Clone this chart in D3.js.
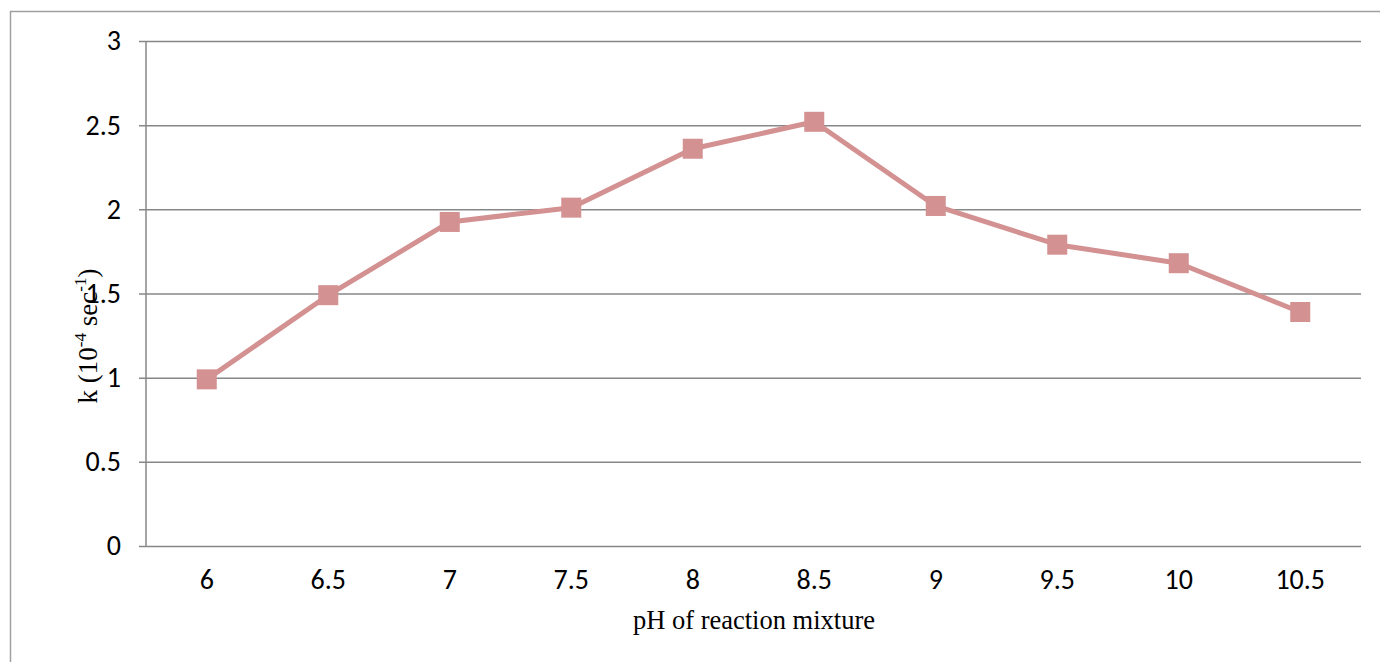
<!DOCTYPE html>
<html>
<head>
<meta charset="utf-8">
<script src="https://cdn.jsdelivr.net/npm/d3@7"></script>
<style>
  html, body { margin: 0; padding: 0; background: #fff; }
  svg { display: block; }
</style>
</head>
<body>
<svg id="chart" width="1380" height="662"></svg>
<script>
// pH of the reaction mixture and the measured rate constant k (10^-4 sec^-1)
const categories = ["6", "6.5", "7", "7.5", "8", "8.5", "9", "9.5", "10", "10.5"];
const kValues = [0.99, 1.49, 1.925, 2.01, 2.36, 2.52, 2.02, 1.79, 1.68, 1.39];
const yTicks = [0, 0.5, 1, 1.5, 2, 2.5, 3];

const svg = d3.select("#chart");
const W = 1380, H = 662;
const plot = { left: 146, right: 1361, top: 41, bottom: 546 };
const tickFont = "Carlito, 'Open Sans', 'Liberation Sans', sans-serif";
const titleFont = "'Liberation Serif', 'Times New Roman', serif";

// outer chart frame
svg.append("rect")
  .attr("x", 10.5).attr("y", 11.5)
  .attr("width", W + 20).attr("height", H + 20)
  .attr("fill", "none").attr("stroke", "#a0a0a0").attr("stroke-width", 1.5);

const x = d3.scaleBand().domain(categories).range([plot.left, plot.right]);
const y = d3.scaleLinear().domain([0, 3]).range([plot.bottom, plot.top]);

// horizontal gridlines with short ticks on the left
const yAxis = d3.axisLeft(y)
  .tickValues(yTicks)
  .tickFormat(d => d3.format("")(d))
  .tickSizeInner(-(plot.right - plot.left))
  .tickSizeOuter(0)
  .tickPadding(25);

const gy = svg.append("g").attr("transform", `translate(${plot.left},0)`).call(yAxis);
gy.select(".domain").remove();
gy.selectAll(".tick line")
  .attr("x1", -7)
  .attr("stroke", "#878787").attr("stroke-width", 1.5);
gy.selectAll(".tick text")
  .attr("font-family", tickFont)
  .attr("font-size", 28).attr("fill", "#000");

// vertical axis line
svg.append("line")
  .attr("x1", plot.left).attr("x2", plot.left)
  .attr("y1", plot.top).attr("y2", plot.bottom)
  .attr("stroke", "#878787").attr("stroke-width", 1.5);

// category axis (labels only, no tick marks)
const xAxis = d3.axisBottom(x).tickSize(0).tickPadding(23);
const gx = svg.append("g").attr("transform", `translate(0,${plot.bottom})`).call(xAxis);
gx.select(".domain").remove();
gx.selectAll(".tick text")
  .attr("font-family", tickFont)
  .attr("font-size", 28).attr("fill", "#000");

const cx = d => x(d) + x.bandwidth() / 2;
const seriesColor = "#d39191";

// the rate-constant line
svg.append("path")
  .datum(categories.map((c, i) => [c, kValues[i]]))
  .attr("fill", "none")
  .attr("stroke", seriesColor)
  .attr("stroke-width", 5)
  .attr("stroke-linejoin", "round")
  .attr("d", d3.line().x(d => cx(d[0])).y(d => y(d[1])));

// square markers
const ms = 20;
svg.append("g").selectAll("rect")
  .data(categories.map((c, i) => [c, kValues[i]]))
  .join("rect")
  .attr("x", d => cx(d[0]) - ms / 2)
  .attr("y", d => y(d[1]) - ms / 2)
  .attr("width", ms).attr("height", ms)
  .attr("fill", seriesColor);

// axis titles
svg.append("text")
  .attr("x", 754).attr("y", 629)
  .attr("text-anchor", "middle")
  .attr("font-family", titleFont)
  .attr("font-size", 26.5).attr("fill", "#000")
  .text("pH of reaction mixture");

const yt = svg.append("text")
  .attr("transform", "translate(97,336) rotate(-90)")
  .attr("text-anchor", "middle")
  .attr("font-family", titleFont)
  .attr("font-size", 27).attr("fill", "#000");
yt.append("tspan").text("k (10");
yt.append("tspan").attr("font-size", 17).attr("dy", -11).text("-4");
yt.append("tspan").attr("dy", 11).text(" sec");
yt.append("tspan").attr("font-size", 17).attr("dy", -11).text("-1");
yt.append("tspan").attr("dy", 11).text(")");
</script>
</body>
</html>
